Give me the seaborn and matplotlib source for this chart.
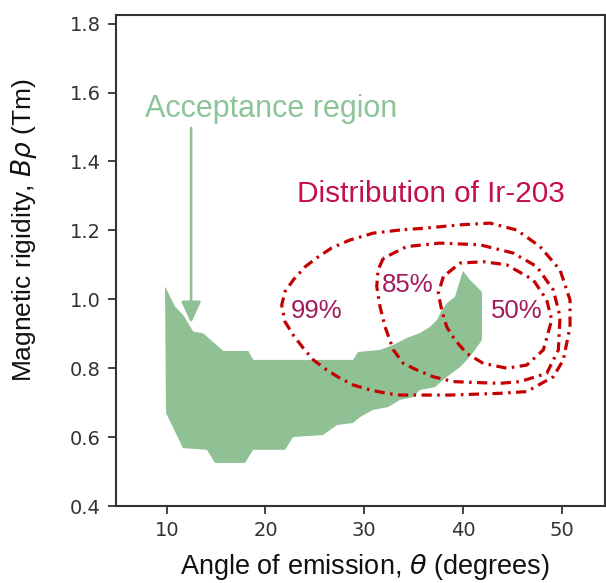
import numpy as np
import pandas as pd
import matplotlib
matplotlib.use("Agg")
import matplotlib.pyplot as plt
import seaborn as sns

# ---------------- data ----------------
# Acceptance region outline (angle in degrees, rigidity in Tm)
accept_theta = [9.83, 10.84, 11.68, 12.69, 13.70, 15.73, 18.26, 18.77, 28.86, 29.36,
                31.59, 32.90, 34.32, 35.64, 36.65, 37.36, 37.86, 38.37, 39.18, 39.69,
                39.99, 40.70, 41.41, 41.91, 41.91, 41.21, 40.40, 39.69, 38.88, 37.97,
                37.16, 35.64, 34.93, 33.61, 32.40, 30.88, 29.57, 28.86, 27.24, 25.82,
                22.79, 21.98, 18.74, 17.93, 14.89, 14.08, 11.65, 9.93]
accept_brho = [1.037, 0.979, 0.954, 0.906, 0.901, 0.850, 0.850, 0.824, 0.824, 0.847,
               0.853, 0.867, 0.888, 0.902, 0.920, 0.940, 0.969, 0.989, 1.007, 1.056,
               1.082, 1.056, 1.036, 1.021, 0.882, 0.853, 0.824, 0.803, 0.786, 0.766,
               0.745, 0.737, 0.716, 0.708, 0.687, 0.679, 0.658, 0.641, 0.635, 0.606,
               0.600, 0.563, 0.563, 0.525, 0.525, 0.563, 0.568, 0.670]

# Ir-203 distribution contours
c99_theta = [33.61, 30.91, 28.55, 26.70, 25.18, 24.00, 22.81, 21.97, 21.64, 21.97,
             22.81, 23.83, 24.84, 26.19, 27.54, 28.89, 30.58, 32.27, 33.61, 38.67,
             43.73, 46.44, 49.13, 50.14, 50.82, 50.82, 49.81, 47.78, 45.43, 42.72,
             39.69, 35.97]
c99_brho = [1.201, 1.192, 1.172, 1.149, 1.120, 1.094, 1.056, 1.022, 0.983, 0.935,
            0.896, 0.858, 0.824, 0.795, 0.771, 0.751, 0.737, 0.727, 0.722, 0.722,
            0.727, 0.732, 0.775, 0.824, 0.920, 0.998, 1.085, 1.153, 1.201, 1.221,
            1.216, 1.206]

c85_theta = [31.92, 31.39, 31.26, 31.59, 32.10, 32.94, 33.95, 35.30, 36.98, 39.01,
             41.71, 43.73, 45.76, 48.46, 49.64, 49.81, 49.13, 47.45, 45.08, 41.71,
             37.66, 34.29]
c85_brho = [1.119, 1.085, 1.037, 0.979, 0.920, 0.853, 0.814, 0.795, 0.775, 0.761,
            0.758, 0.756, 0.761, 0.785, 0.853, 0.950, 1.027, 1.095, 1.134, 1.158,
            1.163, 1.153]

c50_theta = [38.00, 37.49, 37.83, 38.34, 39.18, 40.36, 42.04, 44.41, 46.44, 48.12,
             48.97, 48.46, 47.11, 44.41, 42.04, 39.69]
c50_brho = [1.066, 1.017, 0.969, 0.920, 0.882, 0.843, 0.814, 0.800, 0.809, 0.853,
            0.940, 0.998, 1.056, 1.100, 1.109, 1.105]

contour_levels = ["99%", "85%", "50%"]
x_ticks = [10, 20, 30, 40, 50]
y_ticks = [0.4, 0.6, 0.8, 1.0, 1.2, 1.4, 1.6, 1.8]

# ---------------- style ----------------
sns.set_theme(style="ticks")
plt.rcParams["font.family"] = ["DejaVu Sans"]
plt.rcParams["mathtext.fontset"] = "dejavusans"

GREEN = "#8fc194"
GREEN_TXT = "#8cc49a"
RED = "#c40000"
DIST_TXT = "#c4104a"
PCT_TXT = "#a3195b"
LABEL_FONT = ["Liberation Sans", "DejaVu Sans"]

fig = plt.figure(figsize=(6.06, 5.83), dpi=100)
ax = fig.add_axes([116 / 606, 77 / 583, 489 / 606, 491 / 583])

# acceptance region
ax.fill(accept_theta, accept_brho, color=GREEN, lw=0, zorder=1)

# contours
dash = (0, (3.2, 1.7, 0.8, 1.7))
for th, br in [(c99_theta, c99_brho), (c85_theta, c85_brho), (c50_theta, c50_brho)]:
    df = pd.DataFrame({"theta": th + th[:1], "brho": br + br[:1]})
    sns.lineplot(data=df, x="theta", y="brho", sort=False, estimator=None,
                 color=RED, lw=2.3, linestyle=dash, ax=ax, zorder=3)
for ln in ax.lines:
    ln.set_dash_capstyle("butt")

# annotations
ax.text(7.80, 1.529, "Acceptance region", color=GREEN_TXT, fontsize=22,
        family=LABEL_FONT, ha="left", va="baseline")
ax.annotate("", xy=(12.47, 0.931), xytext=(12.47, 1.497),
            arrowprops=dict(arrowstyle="-|>,head_length=0.65,head_width=0.3",
                            color=GREEN, lw=1.9, mutation_scale=20,
                            shrinkA=0, shrinkB=0))
ax.text(23.16, 1.283, "Distribution of Ir-203", color=DIST_TXT, fontsize=21.4,
        family=LABEL_FONT, ha="left", va="baseline")
for lab, (tx, ty) in zip(contour_levels, [(22.55, 0.947), (31.76, 1.022), (42.79, 0.946)]):
    ax.text(tx, ty, lab, color=PCT_TXT, fontsize=18.5, family=LABEL_FONT,
            ha="left", va="baseline", zorder=4)

# axes
ax.set_xlim(4.87, 54.36)
ax.set_ylim(0.4, 1.825)
ax.set_xticks(x_ticks)
ax.set_yticks(y_ticks)
ax.set_yticklabels([f"{v:.1f}" for v in y_ticks])
ax.tick_params(axis="both", labelsize=14, length=6, width=1.3, color="#333333",
               labelcolor="#333333", pad=5)
for sp in ax.spines.values():
    sp.set_visible(True)
    sp.set_linewidth(1.5)
    sp.set_color("#333333")

ax.set_xlabel(r"Angle of emission, $\theta$ (degrees)", fontsize=19.5,
              family=LABEL_FONT, color="#111111")
ax.set_ylabel(r"Magnetic rigidity, $B\rho$ (Tm)", fontsize=19,
              family=LABEL_FONT, color="#111111")
ax.xaxis.set_label_coords(0.509, -0.094)
ax.yaxis.set_label_coords(-0.158, 0.562)

fig.savefig("out.png", dpi=100)
